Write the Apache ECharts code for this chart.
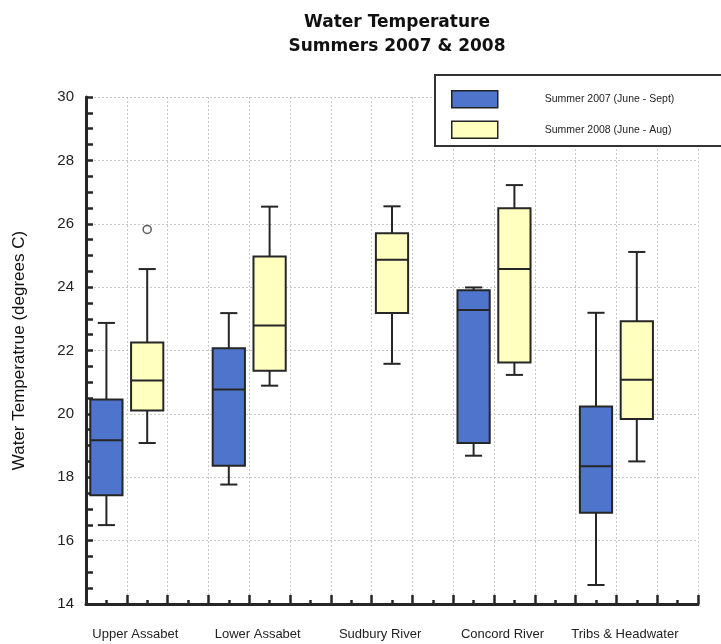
<!DOCTYPE html>
<html>
<head>
<meta charset="utf-8">
<script src="https://cdn.jsdelivr.net/npm/echarts@6/dist/echarts.min.js"></script>
<style>
html,body{margin:0;padding:0;background:#fff;}
#chart{width:721px;height:644px;}
</style>
</head>
<body>
<div id="chart"></div>
<script>
// ---- data ----
var categories = ['Upper Assabet', 'Lower Assabet', 'Sudbury River', 'Concord River', 'Tribs & Headwater'];
var seriesNames = ['Summer 2007 (June - Sept)', 'Summer 2008 (June - Aug)'];
// [min, Q1, median, Q3, max]
var stats2007 = [
  [16.49, 17.43, 19.17, 20.45, 22.87],
  [17.77, 18.36, 20.77, 22.07, 23.18],
  null,
  [18.68, 19.08, 23.28, 23.90, 23.99],
  [14.60, 16.88, 18.35, 20.23, 23.19]
];
var stats2008 = [
  [19.08, 20.11, 21.05, 22.25, 24.57],
  [20.89, 21.36, 22.79, 24.97, 26.54],
  [21.58, 23.18, 24.86, 25.70, 26.55],
  [21.23, 21.62, 24.57, 26.49, 27.22],
  [18.50, 19.84, 21.08, 22.92, 25.11]
];
// [category index, value]
var outliers2008 = [[0, 25.82]];
var yTicks = [14, 16, 18, 20, 22, 24, 26, 28, 30];

// ---- build ----
function toSlots(stats, offset) {
  var out = [];
  stats.forEach(function (s, i) {
    if (s) out.push([i * 3 + offset].concat(s));
  });
  return out;
}
var data2007 = toSlots(stats2007, 0.5);
var data2008 = toSlots(stats2008, 1.5);
var outlierData = outliers2008.map(function (o) { return [o[0] * 3 + 1.5, o[1]]; });

var LINE = '#262626';
function renderBox(params, api) {
  var x = api.value(0);
  var pMin = api.coord([x, api.value(1)]);
  var pQ1 = api.coord([x, api.value(2)]);
  var pMed = api.coord([x, api.value(3)]);
  var pQ3 = api.coord([x, api.value(4)]);
  var pMax = api.coord([x, api.value(5)]);
  var slotW = api.size([1, 0])[0];
  var bw = slotW * 0.79, cw = slotW * 0.42;
  var cx = pMed[0];
  var color = api.visual('color');
  var lineStyle = { stroke: LINE, lineWidth: 2 };
  return {
    type: 'group',
    children: [
      { type: 'line', shape: { x1: cx, y1: pMax[1], x2: cx, y2: pQ3[1] }, style: lineStyle },
      { type: 'line', shape: { x1: cx, y1: pQ1[1], x2: cx, y2: pMin[1] }, style: lineStyle },
      { type: 'line', shape: { x1: cx - cw / 2, y1: pMax[1], x2: cx + cw / 2, y2: pMax[1] }, style: lineStyle },
      { type: 'line', shape: { x1: cx - cw / 2, y1: pMin[1], x2: cx + cw / 2, y2: pMin[1] }, style: lineStyle },
      { type: 'rect', shape: { x: cx - bw / 2, y: pQ3[1], width: bw, height: pQ1[1] - pQ3[1] },
        style: { fill: color, stroke: LINE, lineWidth: 2 } },
      { type: 'line', shape: { x1: cx - bw / 2, y1: pMed[1], x2: cx + bw / 2, y2: pMed[1] }, style: lineStyle }
    ]
  };
}

var FONT = 'Liberation Sans, Arial, sans-serif';
var chart = echarts.init(document.getElementById('chart'), null, { renderer: 'canvas' });
chart.setOption({
  animation: false,
  backgroundColor: '#fff',
  title: {
    text: 'Water Temperature\nSummers 2007 & 2008',
    left: 392, top: 6, textAlign: 'center',
    textStyle: { fontFamily: 'DejaVu Sans, sans-serif', fontSize: 17, fontWeight: 'bold', color: '#111', lineHeight: 24 }
  },
  legend: {
    data: seriesNames,
    left: 435, top: 75,
    orient: 'vertical',
    icon: 'rect',
    itemWidth: 46, itemHeight: 17, itemGap: 12,
    padding: [15, 70, 7, 16],
    borderColor: '#333', borderWidth: 2,
    backgroundColor: '#fff',
    itemStyle: { borderColor: '#222', borderWidth: 1.5 },
    textStyle: { fontFamily: FONT, fontSize: 10.5, color: '#222', padding: [0, 0, 0, 42] }
  },
  grid: { left: 86, right: 23, top: 97, bottom: 40 },
  xAxis: {
    type: 'value', min: 0, max: 15, interval: 1,
    axisLine: { show: true, onZero: false, lineStyle: { color: LINE, width: 3 } },
    axisTick: { show: true, inside: true, length: 9, lineStyle: { color: LINE, width: 2.5 } },
    minorTick: { show: true, splitNumber: 2, length: 4, lineStyle: { color: LINE, width: 2.5 } },
    splitLine: { show: true, lineStyle: { color: '#c8c8c8', type: [2, 2], width: 1 } },
    axisLabel: {
      margin: 24, fontFamily: FONT, fontSize: 13, color: '#222', padding: [0, 0, 0, 17],
      showMinLabel: true, showMaxLabel: true,
      formatter: function (v) {
        var r = Math.round(v);
        if ((r - 1) % 3 === 0 && categories[(r - 1) / 3] !== undefined) return categories[(r - 1) / 3];
        return '';
      }
    }
  },
  yAxis: {
    type: 'value', min: yTicks[0], max: yTicks[yTicks.length - 1], interval: 2,
    name: 'Water Temperatrue (degrees C)', nameLocation: 'middle', nameGap: 58, nameRotate: 90,
    nameTextStyle: { fontFamily: FONT, fontSize: 17, color: '#111' },
    axisLine: { show: true, lineStyle: { color: LINE, width: 3 } },
    axisTick: { show: true, inside: true, length: 7, lineStyle: { color: LINE, width: 2.5 } },
    minorTick: { show: true, splitNumber: 4, length: 7, lineStyle: { color: LINE, width: 2.5 } },
    splitLine: { show: true, lineStyle: { color: '#c8c8c8', type: [2, 2], width: 1 } },
    axisLabel: { margin: 12, fontFamily: FONT, fontSize: 15, color: '#222' }
  },
  series: [
    {
      name: seriesNames[0], type: 'custom', renderItem: renderBox,
      itemStyle: { color: '#4f74cb' },
      encode: { x: 0, y: [1, 2, 3, 4, 5] },
      data: data2007, z: 3
    },
    {
      name: seriesNames[1], type: 'custom', renderItem: renderBox,
      itemStyle: { color: '#ffffc0' },
      encode: { x: 0, y: [1, 2, 3, 4, 5] },
      data: data2008, z: 3
    },
    {
      name: 'outliers', type: 'scatter', symbol: 'circle', symbolSize: 8,
      itemStyle: { color: '#fff', borderColor: '#333', borderWidth: 1.5 },
      data: outlierData, z: 4
    }
  ]
});
</script>
</body>
</html>
